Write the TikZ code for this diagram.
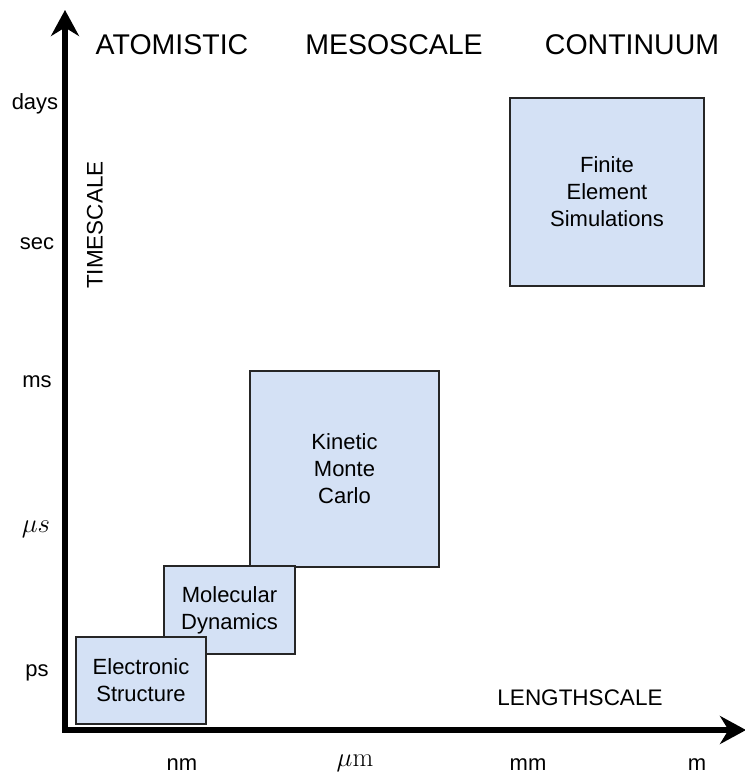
\documentclass[tikz,border=0pt]{standalone}
\usepackage[no-math]{fontspec}
\setmainfont{Liberation Sans}
\usetikzlibrary{arrows.meta}
\definecolor{boxblue}{RGB}{212,225,245}
\tikzset{
  scalebox/.style={draw=black!85, line width=2bp, fill=boxblue, align=center,
    inner sep=0pt, anchor=north west, font=\fontsize{22bp}{27bp}\selectfont},
  ticklabel/.style={font=\fontsize{22bp}{26bp}\selectfont},
  regime/.style={font=\fontsize{28.5bp}{33bp}\selectfont},
  axislabel/.style={font=\fontsize{22.5bp}{26bp}\selectfont},
  axisline/.style={line width=6bp,
    {Stealth[length=26bp,width=28bp]}-{Stealth[length=26bp,width=28bp]}}
}
\newcommand{\bigmath}[1]{\scalebox{1.3}{$#1$}}
\begin{document}
\begin{tikzpicture}[x=1bp,y=-1bp]
  \useasboundingbox (0,0) rectangle (745,776);
  % axes
  \coordinate (ytip) at (65,10);
  \coordinate (origin) at (65,730);
  \coordinate (xtip) at (746,730);
  \draw[axisline] (ytip) -- (origin) -- (xtip);
  \node[axislabel, rotate=90] (tlabel) at (95,225) {TIMESCALE};
  \node[axislabel] (llabel) at (580,698) {LENGTHSCALE};
  % regimes
  \node[regime] (atom) at (172,45) {ATOMISTIC};
  \node[regime] (meso) at (394,45) {MESOSCALE};
  \node[regime] (cont) at (632,45) {CONTINUUM};
  % time ticks
  \node[ticklabel] (days) at (35,104) {days};
  \node[ticklabel] (sec) at (37,244) {sec};
  \node[ticklabel] (ms) at (37,382) {ms};
  \node[ticklabel] (mus) at (36,529) {\bigmath{\mu s}};
  \node[ticklabel] (ps) at (37,673) {ps};
  % length ticks
  \node[ticklabel] (nm) at (182,765) {nm};
  \node[ticklabel] (mum) at (355,763) {\bigmath{\mu\mathrm{m}}};
  \node[ticklabel] (mm) at (528,765) {mm};
  \node[ticklabel] (m) at (697,765) {m};
  % methods
  \node[scalebox, minimum width=194bp, minimum height=188bp] (fem) at (509,97)
    {Finite\\Element\\Simulations};
  \node[scalebox, minimum width=189bp, minimum height=196bp] (kmc) at (249,370)
    {Kinetic\\Monte\\Carlo};
  \node[scalebox, minimum width=131bp, minimum height=88bp] (md) at (163,565)
    {Molecular\\Dynamics};
  \node[scalebox, minimum width=130bp, minimum height=87bp] (es) at (75,636)
    {Electronic\\Structure};
\end{tikzpicture}
\end{document}
